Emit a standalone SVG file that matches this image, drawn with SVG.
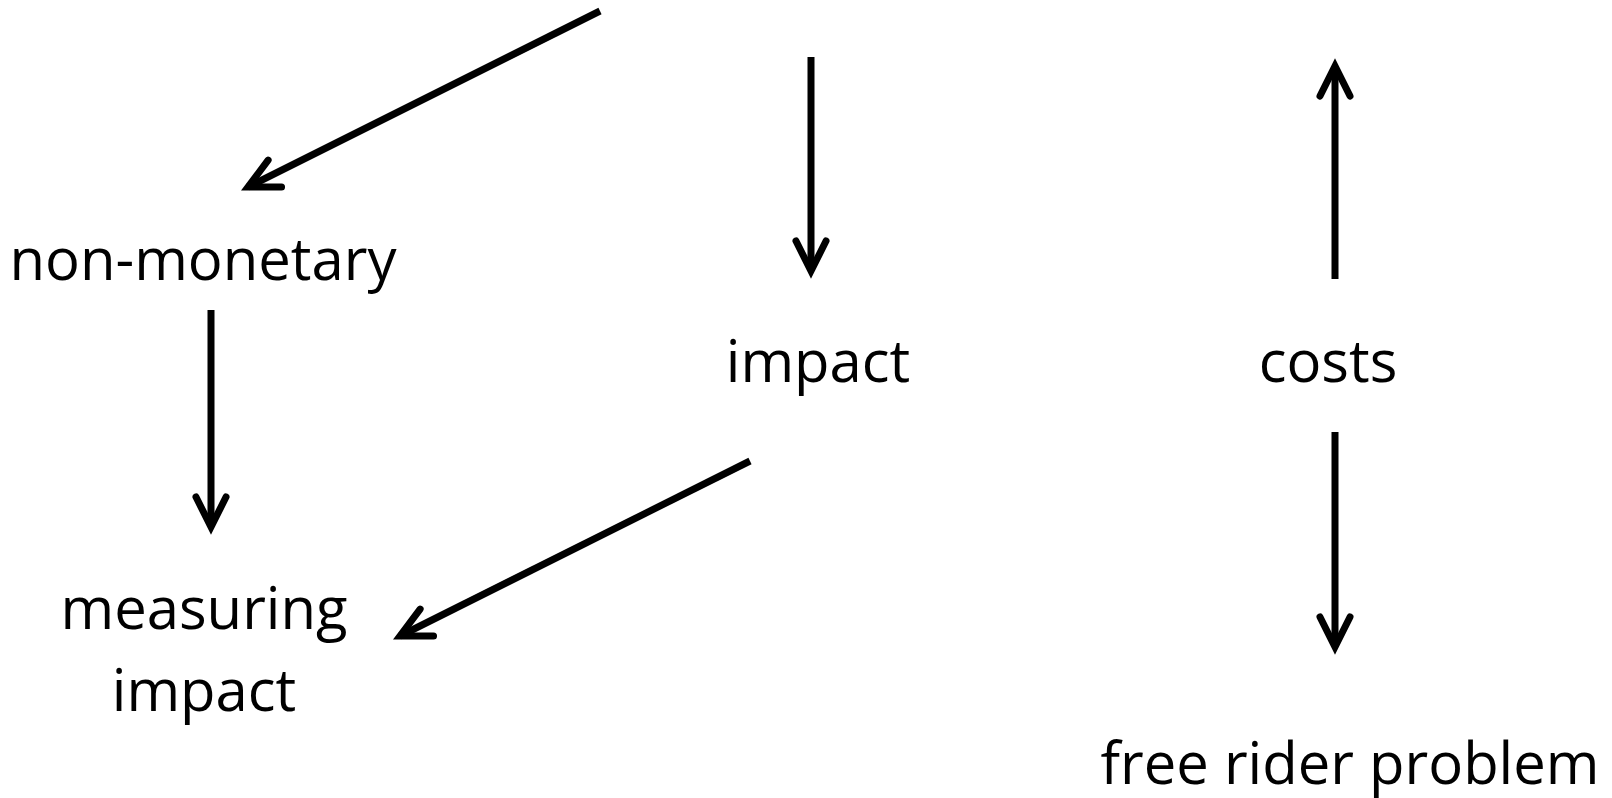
<svg xmlns="http://www.w3.org/2000/svg" width="1612" height="798" viewBox="0 0 1612 798">
  <style>
    .label { font-family: "Open Sans", "Liberation Sans", sans-serif; font-size: 58px; fill: #000; text-anchor: middle; }
    .edge { fill: none; stroke: #000; stroke-width: 7; stroke-linecap: butt; marker-end: url(#head); }
  </style>
  <defs>
    <!-- open V arrowhead: rounded arm ends, sharp tip -->
    <marker id="head" markerUnits="userSpaceOnUse" viewBox="-40 -20 50 40" refX="0" refY="0" markerWidth="50" markerHeight="40" orient="auto" overflow="visible">
      <path d="M-30,-15 L0,0 L-30,15" fill="none" stroke="#000" stroke-width="7" stroke-linecap="round" stroke-linejoin="miter" stroke-miterlimit="10"/>
    </marker>
  </defs>
  <rect width="1612" height="798" fill="#fff"/>

  <g id="connectors">
    <line class="edge" x1="600" y1="11" x2="248" y2="187"/>
    <line class="edge" x1="811" y1="57" x2="811" y2="271"/>
    <line class="edge" x1="1335" y1="279" x2="1335" y2="66"/>
    <line class="edge" x1="211" y1="310" x2="211" y2="527"/>
    <line class="edge" x1="750" y1="461" x2="400" y2="636"/>
    <line class="edge" x1="1335" y1="432" x2="1335" y2="647"/>
  </g>

  <g id="node-non-monetary">
    <text class="label" x="203" y="280">non-monetary</text>
  </g>
  <g id="node-impact">
    <text class="label" x="818" y="382">impact</text>
  </g>
  <g id="node-costs">
    <text class="label" x="1328" y="382">costs</text>
  </g>
  <g id="node-measuring-impact">
    <text class="label" x="204" y="629">measuring</text>
    <text class="label" x="204" y="711">impact</text>
  </g>
  <g id="node-free-rider-problem">
    <text class="label" x="1350" y="784">free rider problem</text>
  </g>
</svg>
